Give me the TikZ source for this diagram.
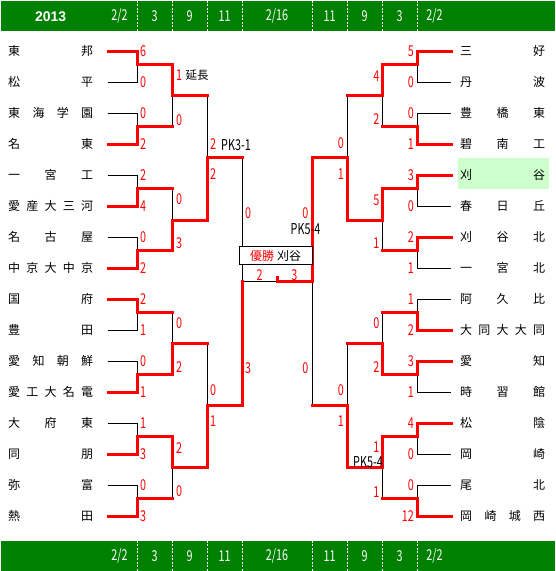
\documentclass[tikz,border=0pt]{standalone}
\usepackage{fontspec}
\usepackage{graphicx}
\setmainfont{Noto Sans CJK JP}
\newfontfamily\hdfont{Liberation Sans}
\definecolor{barg}{RGB}{0,128,0}
\definecolor{hlg}{RGB}{204,255,204}
\newcommand\dg[1]{\scalebox{0.72}[1]{\fontsize{15}{15}\selectfont #1}}
\newcommand\nmbox[1]{\makebox[85pt][s]{#1}}
\tikzset{
  lose/.style={draw=black, line width=1pt},
  win/.style={draw=red, line width=3pt, line cap=rect},
  nm/.style={anchor=base west, inner sep=0pt, font=\fontsize{12}{12}\selectfont},
  scw/.style={anchor=west, inner sep=0pt, text=red},
  sce/.style={anchor=east, inner sep=0pt, text=red},
  scc/.style={anchor=center, inner sep=0pt, text=red},
  bartext/.style={anchor=center, inner sep=0pt, text=white},
  divider/.style={draw=white, line width=1pt, dash pattern=on 2pt off 1.5pt},
}
\begin{document}
\begin{tikzpicture}[x=1pt,y=-1pt]
\useasboundingbox (0,0) rectangle (555,571);
% bars
\fill[barg] (1,0.5) rectangle (555,30.8);
\fill[barg] (1,540.7) rectangle (555,571);
\foreach \x in {137.5,172.5,207.5,242.5,312.5,347.5,382.5,417.5}{
  \draw[divider] (\x,0.5) -- (\x,30.8);
  \draw[divider] (\x,540.7) -- (\x,571);
}
\node[bartext, font=\hdfont\bfseries\fontsize{14}{14}\selectfont] (yr) at (50.7,16.5) {2013};
\foreach \x/\t [count=\c] in {119.4/2\slash 2,154.5/3,189.5/9,224.5/11,277/2\slash 16,329.5/11,364.5/9,399.5/3,434.5/2\slash 2}{
  \node[bartext] (dt\c) at (\x,16) {\dg{\t}};
  \node[bartext] (db\c) at (\x,556) {\dg{\t}};
}
% highlight
\fill[hlg] (458,157.7) rectangle (549,189.3);
% coordinates
\foreach \i in {0,...,15}{
  \pgfmathsetmacro\ry{51+31*\i}
  \coordinate (LS\i) at (108,\ry); \coordinate (LE\i) at (137,\ry);
  \coordinate (RS\i) at (451,\ry); \coordinate (RE\i) at (417,\ry);
}
\foreach \k in {0,...,7}{
  \pgfmathsetmacro\py{64+62.1*\k}
  \coordinate (LP\k) at (137,\py); \coordinate (LM\k) at (172,\py);
  \coordinate (RP\k) at (417,\py); \coordinate (RM\k) at (382,\py);
}
\foreach \q/\y in {0/95.7,1/220,2/343.5,3/467.7}{
  \coordinate (LQ\q) at (172,\y); \coordinate (LN\q) at (207,\y);
  \coordinate (RQ\q) at (382,\y); \coordinate (RN\q) at (347,\y);
}
\foreach \h/\y in {0/157.7,1/405.7}{
  \coordinate (LH\h) at (207,\y); \coordinate (LG\h) at (242,\y);
  \coordinate (RH\h) at (347,\y); \coordinate (RG\h) at (312,\y);
}
\coordinate (LF) at (242,281.5);
\coordinate (RF) at (312,281.5);
\coordinate (FT) at (277,281.5);
\coordinate (FTT) at (277,277);
% losers (black)
\foreach \r/\k in {1/0,2/1,4/2,6/3,9/4,10/5,12/6,14/7}{
  \draw[lose] (LS\r) -- (LE\r) -- (LP\k);
}
\foreach \r/\k in {1/0,2/1,5/2,7/3,8/4,11/5,13/6,14/7}{
  \draw[lose] (RS\r) -- (RE\r) -- (RP\k);
}
\foreach \k/\q in {1/0,2/1,4/2,7/3}{ \draw[lose] (LM\k) -- (LQ\q); }
\foreach \k/\q in {1/0,3/1,4/2,7/3}{ \draw[lose] (RM\k) -- (RQ\q); }
\draw[lose] (LN0) -- (LH0);
\draw[lose] (LN2) -- (LH1);
\draw[lose] (RN0) -- (RH0);
\draw[lose] (RN2) -- (RH1);
\draw[lose] (LG0) -- (LF);
\draw[lose] (RG1) -- (RF);
\draw[lose] (LF) -- (FT);
% winners (red)
\foreach \r/\k in {0/0,3/1,5/2,7/3,8/4,11/5,13/6,15/7}{
  \draw[win] (LS\r) -- (LE\r) -- (LP\k) -- (LM\k);
}
\foreach \r/\k in {0/0,3/1,4/2,6/3,9/4,10/5,12/6,15/7}{
  \draw[win] (RS\r) -- (RE\r) -- (RP\k) -- (RM\k);
}
\foreach \k/\q in {0/0,3/1,5/2,6/3}{ \draw[win] (LM\k) -- (LQ\q) -- (LN\q); }
\foreach \k/\q in {0/0,2/1,5/2,6/3}{ \draw[win] (RM\k) -- (RQ\q) -- (RN\q); }
\draw[win] (LN1) -- (LH0) -- (LG0);
\draw[win] (LN3) -- (LH1) -- (LG1);
\draw[win] (RN1) -- (RH0) -- (RG0);
\draw[win] (RN3) -- (RH1) -- (RG1);
\draw[win] (LG1) -- (LF);
\draw[win] (RG0) -- (RF) -- (FT) -- (FTT);
% champion box
\node[draw=black, fill=white, line width=1pt, minimum width=73pt, minimum height=17.5pt, inner sep=0pt, font=\fontsize{12}{12}\selectfont] (champ) at (275.7,255.7) {\textcolor{red}{優勝}\hspace{3pt}刈谷};
\node[scc] (fs1) at (259.7,275) {\dg{2}};
\node[scc] (fs2) at (294.3,275) {\dg{3}};
% left names
\foreach \i/\n in {0/{東\hfill 邦},1/{松\hfill 平},2/{東\hfill 海\hfill 学\hfill 園},3/{名\hfill 東},4/{一\hfill 宮\hfill 工},5/{愛\hfill 産\hfill 大\hfill 三\hfill 河},6/{名\hfill 古\hfill 屋},7/{中\hfill 京\hfill 大\hfill 中\hfill 京},8/{国\hfill 府},9/{豊\hfill 田},10/{愛\hfill 知\hfill 朝\hfill 鮮},11/{愛\hfill 工\hfill 大\hfill 名\hfill 電},12/{大\hfill 府\hfill 東},13/{同\hfill 朋},14/{弥\hfill 富},15/{熱\hfill 田}}{
  \pgfmathsetmacro\by{51+31*\i+4.6}
  \node[nm] (L\i) at (8,\by) {\nmbox{\n}};
}
\foreach \i/\n in {0/{三\hfill 好},1/{丹\hfill 波},2/{豊\hfill 橋\hfill 東},3/{碧\hfill 南\hfill 工},4/{刈\hfill 谷},5/{春\hfill 日\hfill 丘},6/{刈\hfill 谷\hfill 北},7/{一\hfill 宮\hfill 北},8/{阿\hfill 久\hfill 比},9/{大\hfill 同\hfill 大\hfill 大\hfill 同},10/{愛\hfill 知},11/{時\hfill 習\hfill 館},12/{松\hfill 陰},13/{岡\hfill 崎},14/{尾\hfill 北},15/{岡\hfill 崎\hfill 城\hfill 西}}{
  \pgfmathsetmacro\by{51+31*\i+4.6}
  \node[nm] (R\i) at (460,\by) {\nmbox{\n}};
}
% round 1 scores
\foreach \i/\s in {0/6,1/0,2/0,3/2,4/2,5/4,6/0,7/2,8/2,9/1,10/0,11/1,12/1,13/3,14/0,15/3}{
  \pgfmathsetmacro\sy{51+31*\i}
  \node[scw] (ls\i) at (140,\sy) {\dg{\s}};
}
\foreach \i/\s in {0/5,1/0,2/0,3/1,4/3,5/0,6/2,7/1,8/1,9/2,10/3,11/1,12/4,13/0,14/0,15/12}{
  \pgfmathsetmacro\sy{51+31*\i}
  \node[sce] (rs\i) at (414,\sy) {\dg{\s}};
}
% round 2 scores
\foreach \y/\s [count=\c] in {75.3/1,119.7/0,199.3/0,243.3/3,323.3/0,367.3/2,447.7/2,490.7/0}{
  \node[scw] (lt\c) at (176,\y) {\dg{\s}};
}
\node[anchor=west, inner sep=0pt, font=\fontsize{11.5}{11.5}\selectfont] (ench) at (185.5,75.3) {延長};
\foreach \y/\s [count=\c] in {75.7/4,119.3/2,200/5,243.3/1,323.3/0,367.3/2,446.7/1,491.7/1}{
  \node[sce] (rt\c) at (379.5,\y) {\dg{\s}};
}
\node[anchor=west, inner sep=0pt] (pkr2) at (353,461.7) {\dg{PK5-4}};
% round 3 scores
\foreach \y/\s [count=\c] in {143.8/2,174/2,390/0,421.5/1}{
  \node[scw] (lu\c) at (210,\y) {\dg{\s}};
}
\node[anchor=west, inner sep=0pt] (pkl3) at (221,145) {\dg{PK3-1}};
\foreach \y/\s [count=\c] in {143.3/0,174/1,390/0,421.5/1}{
  \node[sce] (ru\c) at (344,\y) {\dg{\s}};
}
% semifinal scores
\node[scw] (lv1) at (245,212.7) {\dg{0}};
\node[scw] (lv2) at (245,368.3) {\dg{3}};
\node[sce] (rv1) at (308.5,212.7) {\dg{0}};
\node[sce] (rv2) at (308.5,368.3) {\dg{0}};
\node[anchor=west, inner sep=0pt] (pkr4) at (290.5,229.3) {\dg{PK5-4}};
\end{tikzpicture}
\end{document}
